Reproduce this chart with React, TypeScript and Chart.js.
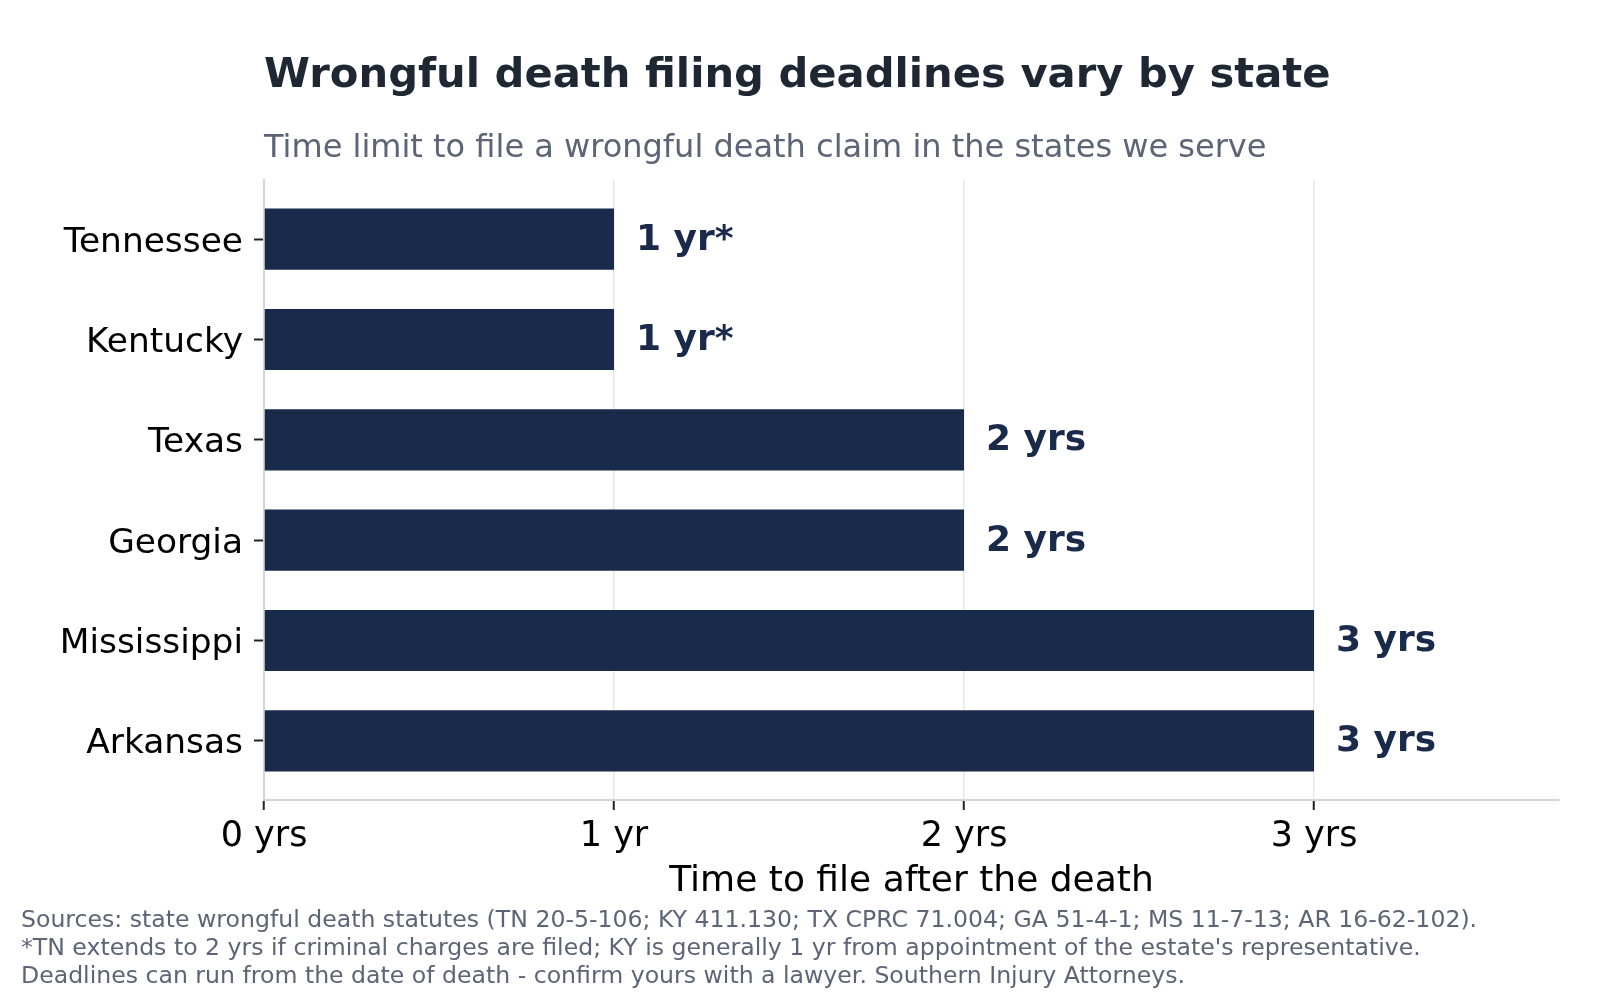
import React, { useEffect, useRef } from 'react';
import { Chart, registerables } from 'chart.js';

Chart.register(...registerables);

const states = ['Tennessee', 'Kentucky', 'Texas', 'Georgia', 'Mississippi', 'Arkansas'];
const years = [1, 1, 2, 2, 3, 3];
const valueLabels = ['1 yr*', '1 yr*', '2 yrs', '2 yrs', '3 yrs', '3 yrs'];
const xTickValues = [0, 1, 2, 3];
const xTickLabels = ['0 yrs', '1 yr', '2 yrs', '3 yrs'];
const titleText = 'Wrongful death filing deadlines vary by state';
const subtitleText = 'Time limit to file a wrongful death claim in the states we serve';
const xAxisTitle = 'Time to file after the death';
const footerLines = [
  'Sources: state wrongful death statutes (TN 20-5-106; KY 411.130; TX CPRC 71.004; GA 51-4-1; MS 11-7-13; AR 16-62-102).',
  "*TN extends to 2 yrs if criminal charges are filed; KY is generally 1 yr from appointment of the estate's representative.",
  'Deadlines can run from the date of death - confirm yours with a lawyer. Southern Injury Attorneys.',
];

const FONT = "'DejaVu Sans', sans-serif";
const NAVY = '#1a2a4b';
const TITLE_COLOR = '#1f2733';
const MUTED = '#5b6576';
const AXIS_LINE = '#cfd6e0';
const GRID = '#e5e7eb';

const textPlugin = {
  id: 'customTexts',
  afterDatasetsDraw(chart: any) {
    const ctx = chart.ctx;
    const meta = chart.getDatasetMeta(0);
    ctx.save();
    ctx.font = `bold 36px ${FONT}`;
    ctx.fillStyle = NAVY;
    ctx.textAlign = 'left';
    ctx.textBaseline = 'alphabetic';
    meta.data.forEach((bar: any, i: number) => {
      ctx.fillText(valueLabels[i], bar.x + 22, bar.y + 10.5);
    });
    ctx.restore();
  },
  afterDraw(chart: any) {
    const ctx = chart.ctx;
    const left = chart.chartArea.left;
    ctx.save();
    ctx.textAlign = 'left';
    ctx.textBaseline = 'alphabetic';
    ctx.fillStyle = TITLE_COLOR;
    ctx.font = `bold 41.7px ${FONT}`;
    ctx.fillText(titleText, left, 86.7);
    ctx.fillStyle = MUTED;
    ctx.font = `32px ${FONT}`;
    ctx.fillText(subtitleText, left, 156.7);
    ctx.font = `23.6px ${FONT}`;
    const baselines = [926.7, 955, 982.7];
    footerLines.forEach((line, i) => {
      ctx.fillText(line, 21, baselines[i]);
    });
    ctx.restore();
  },
};

export default function App() {
  const canvasRef = useRef<HTMLCanvasElement | null>(null);

  useEffect(() => {
    const canvas = canvasRef.current;
    if (!canvas) return;
    const chart = new Chart(canvas, {
      type: 'bar',
      data: {
        datasets: [
          {
            data: years.map((v, i) => ({ x: v, y: i })),
            backgroundColor: NAVY,
            borderWidth: 0,
            barPercentage: 0.61,
            categoryPercentage: 1,
          },
        ],
      },
      options: {
        indexAxis: 'y',
        responsive: false,
        animation: false,
        layout: { padding: { top: 180, right: 41, bottom: 100, left: 0 } },
        plugins: {
          legend: { display: false },
          tooltip: { enabled: false },
          title: { display: false },
        },
        scales: {
          x: {
            type: 'linear',
            position: 'bottom',
            min: 0,
            max: 3.7,
            offset: false,
            afterBuildTicks: (s: any) => {
              s.ticks = xTickValues.map((v) => ({ value: v }));
            },
            afterFit: (s: any) => {
              s.height = 100;
            },
            ticks: {
              callback: (v: any) => xTickLabels[xTickValues.indexOf(Number(v))],
              font: { family: FONT, size: 35 },
              color: '#000',
              padding: 6,
              maxRotation: 0,
              autoSkip: false,
            },
            grid: {
              offset: false,
              color: GRID,
              lineWidth: 1.5,
              drawTicks: true,
              tickLength: 10,
              tickColor: '#222',
              tickWidth: 2,
            },
            border: { display: true, color: AXIS_LINE, width: 2 },
            title: {
              display: true,
              text: xAxisTitle,
              font: { family: FONT, size: 36, lineHeight: 1 },
              color: '#000',
              padding: 0,
            },
          },
          y: {
            type: 'linear',
            min: -0.59,
            max: 5.59,
            reverse: true,
            offset: false,
            afterBuildTicks: (s: any) => {
              s.ticks = states.map((_, i) => ({ value: i }));
            },
            afterFit: (s: any) => {
              s.width = 264;
            },
            ticks: {
              // empty first line nudges the label a few pixels down, like the reference
              callback: (v: any) => ['', states[Number(v)]],
              font: { family: FONT, size: 34.4, lineHeight: '7px' },
              color: '#000',
              padding: 11,
              autoSkip: false,
            },
            grid: {
              offset: false,
              drawOnChartArea: false,
              drawTicks: true,
              tickLength: 10,
              tickColor: '#222',
              tickWidth: 2,
            },
            border: { display: true, color: AXIS_LINE, width: 2 },
          },
        },
      },
      plugins: [textPlugin],
    } as any);
    return () => chart.destroy();
  }, []);

  return (
    <div style={{ position: 'fixed', left: 0, top: 0, width: 1600, height: 1000, background: '#fff' }}>
      <canvas ref={canvasRef} width={1600} height={1000} style={{ display: 'block', width: 1600, height: 1000 }} />
    </div>
  );
}
